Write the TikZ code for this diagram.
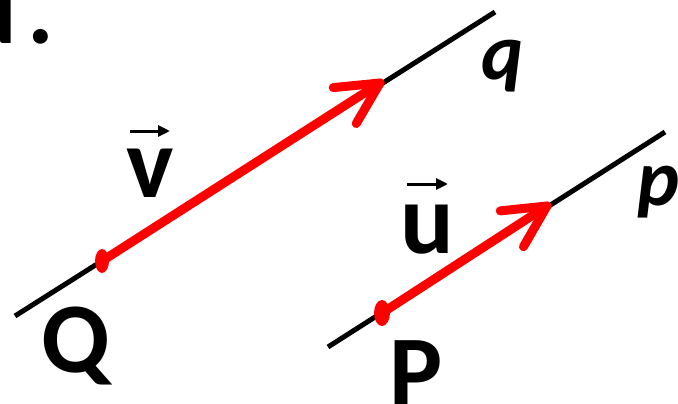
\documentclass[tikz,border=0pt]{standalone}
\usepackage{fontspec}
\setmainfont{Carlito}
\usetikzlibrary{calc,arrows.meta}
\begin{document}
\begin{tikzpicture}[x=1pt,y=-1pt,
  lineb/.style={line width=5pt,black},
  vec/.style={line width=9pt,red,line cap=round,line join=round},
  big/.style={inner sep=0pt,anchor=base,font=\fontsize{100}{100}\selectfont\bfseries},
  small/.style={inner sep=0pt,anchor=base,font=\fontsize{80}{80}\selectfont\bfseries\itshape},
  over/.style={line width=3pt,-{Triangle[length=12pt,width=11pt]}}]
\useasboundingbox (0,0) rectangle (678,404);
% lines
\coordinate (q1) at (15,316);
\coordinate (q2) at (495,12);
\coordinate (p1) at (328,347);
\coordinate (p2) at (665,132);
\draw[lineb] (q1) -- (q2);
\draw[lineb] (p1) -- (p2);
% vectors
\coordinate (Qt) at (102,261);
\coordinate (Vh) at (380,83);
\coordinate (Pt) at (382,313);
\coordinate (Uh) at (547,206);
\draw[vec] (Qt) -- (Vh);
\draw[vec] ($(Vh)!47pt!27:(Qt)$) -- (Vh) -- ($(Vh)!47pt!-27:(Qt)$);
\fill[red] (Qt) ellipse [x radius=7pt, y radius=12pt];
\draw[vec] (Pt) -- (Uh);
\draw[vec] ($(Uh)!47pt!27:(Pt)$) -- (Uh) -- ($(Uh)!47pt!-27:(Pt)$);
\fill[red] (Pt) ellipse [x radius=8pt, y radius=13pt];
% labels
\node[big,anchor=base west] (d) at (-37,44) {d\kern11pt.};
\node[big] (Q) at (76,372) {Q};
\node[big] (P) at (416,405) {P};
\node[big] (v) at (150,197) {v};
\node[big] (u) at (427,253) {u};
\node[small] (q) at (503,80) {q};
\node[small] (p) at (659,205) {p};
\draw[over] ([shift={(-20,-66)}]v.base) -- ([shift={(20,-66)}]v.base);
\draw[over] ([shift={(-20,-69)}]u.base) -- ([shift={(21,-69)}]u.base);
\end{tikzpicture}
\end{document}
